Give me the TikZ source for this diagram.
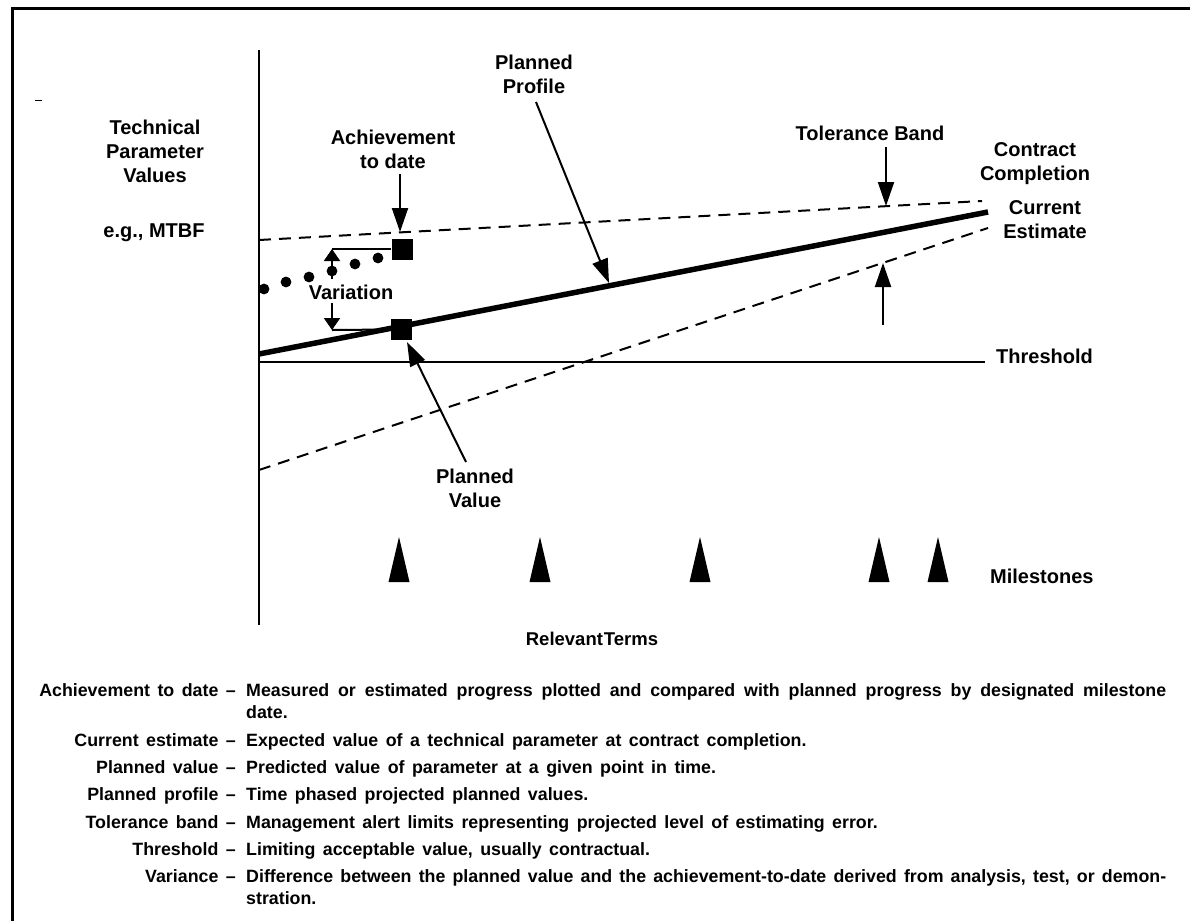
\documentclass[tikz,border=0pt]{standalone}
\usepackage{fontspec}
\setmainfont{Liberation Sans}
\usetikzlibrary{arrows.meta}
\newcommand{\deffont}{\bfseries\fontsize{17.8}{22}\selectfont\spaceskip=0.42em plus 0.4em minus 0.05em\relax}
\begin{document}
\begin{tikzpicture}[x=1pt,y=-1pt,
  lbl/.style={font=\bfseries\fontsize{20}{24}\selectfont, inner sep=0pt, align=center},
  term/.style={font=\deffont, inner sep=0pt, anchor=base east},
  defn/.style={font=\deffont, inner sep=0pt, anchor=base west},
  dashline/.style={line width=2pt, dash pattern=on 12pt off 8pt},
  bigarrow/.style={line width=2pt, -{Triangle[length=24pt,width=16pt]}},
  smallarrow/.style={line width=2pt, -{Triangle[length=12pt,width=16pt]}},
  box/.style={rectangle, fill=black, minimum size=21pt, inner sep=0pt},
  milestone/.style={fill=black},
]
\useasboundingbox (0,0) rectangle (1190,921);
% frame
\draw[line width=3pt] (12,921) -- (12,8.5) -- (1190,8.5);
\draw[line width=0.8pt] (35,100) -- (42,100);
% axes and lines
\draw[line width=2.2pt] (259,50) -- (259,625);
\draw[line width=2.6pt] (259,362) -- (985,362);
\draw[dashline] (259,240) -- (982,201);
\draw[dashline] (259,470) -- (988,228);
\draw[line width=5.5pt] (259,354) -- (988,212);
% dots
\foreach \x/\y in {264/289, 286/282, 309/277, 332/271, 355/264, 378/258}
  \fill (\x,\y) circle (5.4pt);
% squares
\node[box] (ach) at (402,249) {};
\node[box] (pv) at (401.5,329.5) {};
% variation
\coordinate (vu) at (332,249);
\coordinate (vl) at (332,330);
\coordinate (vus) at (332,279);
\coordinate (vls) at (332,303);
\draw[line width=2pt] (ach.west) -- (vu);
\draw[line width=2pt] (pv.west) -- (vl);
\draw[smallarrow] (vus) -- (vu);
\draw[smallarrow] (vls) -- (vl);
\node[lbl, anchor=base] (var) at (351,299) {Variation};
% labels
\node[lbl, anchor=north] (tpv) at (155,119.5) {Technical\\Parameter\\Values};
\node[lbl, anchor=base] (mtbf) at (154,237) {e.g., MTBF};
\node[lbl, anchor=north] (achl) at (393,129.5) {Achievement\\to date};
\coordinate (achs) at (400,174);
\coordinate (acht) at (400,232);
\draw[bigarrow] (achs) -- (acht);
\node[lbl, anchor=north] (ppl) at (534,54.5) {Planned\\Profile};
\coordinate (pps) at (536,102);
\coordinate (ppt) at (609,283);
\draw[bigarrow] (pps) -- (ppt);
\node[lbl, anchor=base] (tbl) at (870,140) {Tolerance Band};
\coordinate (tbs) at (886,147);
\coordinate (tbt) at (886,206);
\draw[bigarrow] (tbs) -- (tbt);
\coordinate (tls) at (883,325);
\coordinate (tlt) at (883,263);
\draw[bigarrow] (tls) -- (tlt);
\node[lbl, anchor=north] (ccl) at (1035,142.6) {Contract\\Completion};
\node[lbl, anchor=north] (cel) at (1045,200.6) {Current\\Estimate};
\node[lbl, anchor=base west] (thl) at (996,363) {Threshold};
\node[lbl, anchor=north] (pvl) at (475,468.6) {Planned\\Value};
\coordinate (pvs) at (466,462);
\coordinate (pvt) at (407,342);
\draw[bigarrow] (pvs) -- (pvt);
% milestones
\foreach \x in {399,540,700,879,938}
  \fill[milestone] (\x-10.5,582) -- (\x,537) -- (\x+10.5,582) -- cycle;
\node[lbl, anchor=base west] (msl) at (990,583) {Milestones};
% relevant terms
\node[font=\bfseries\fontsize{18.5}{22}\selectfont, inner sep=0pt, anchor=base] (rt) at (592,645) {Relevant\kern1pt Terms};
\node[term] (t1) at (236,696) {Achievement to date --};
\node[defn] (d1) at (246,696) {\parbox[t]{920pt}{\hbox to 920pt{Measured or estimated progress plotted and compared with planned progress by designated milestone}date.}};
\node[term] (t2) at (236,746) {Current estimate --};
\node[defn] (d2) at (246,746) {Expected value of a technical parameter at contract completion.};
\node[term] (t3) at (236,773) {Planned value --};
\node[defn] (d3) at (246,773) {Predicted value of parameter at a given point in time.};
\node[term] (t4) at (236,800) {Planned profile --};
\node[defn] (d4) at (246,800) {Time phased projected planned values.};
\node[term] (t5) at (236,828) {Tolerance band --};
\node[defn] (d5) at (246,828) {Management alert limits representing projected level of estimating error.};
\node[term] (t6) at (236,855) {Threshold --};
\node[defn] (d6) at (246,855) {Limiting acceptable value, usually contractual.};
\node[term] (t7) at (236,882) {Variance --};
\node[defn] (d7) at (246,882) {\parbox[t]{920pt}{\hbox to 920pt{Difference between the planned value and the achievement-to-date derived from analysis, test, or demon-}stration.}};
\end{tikzpicture}
\end{document}
